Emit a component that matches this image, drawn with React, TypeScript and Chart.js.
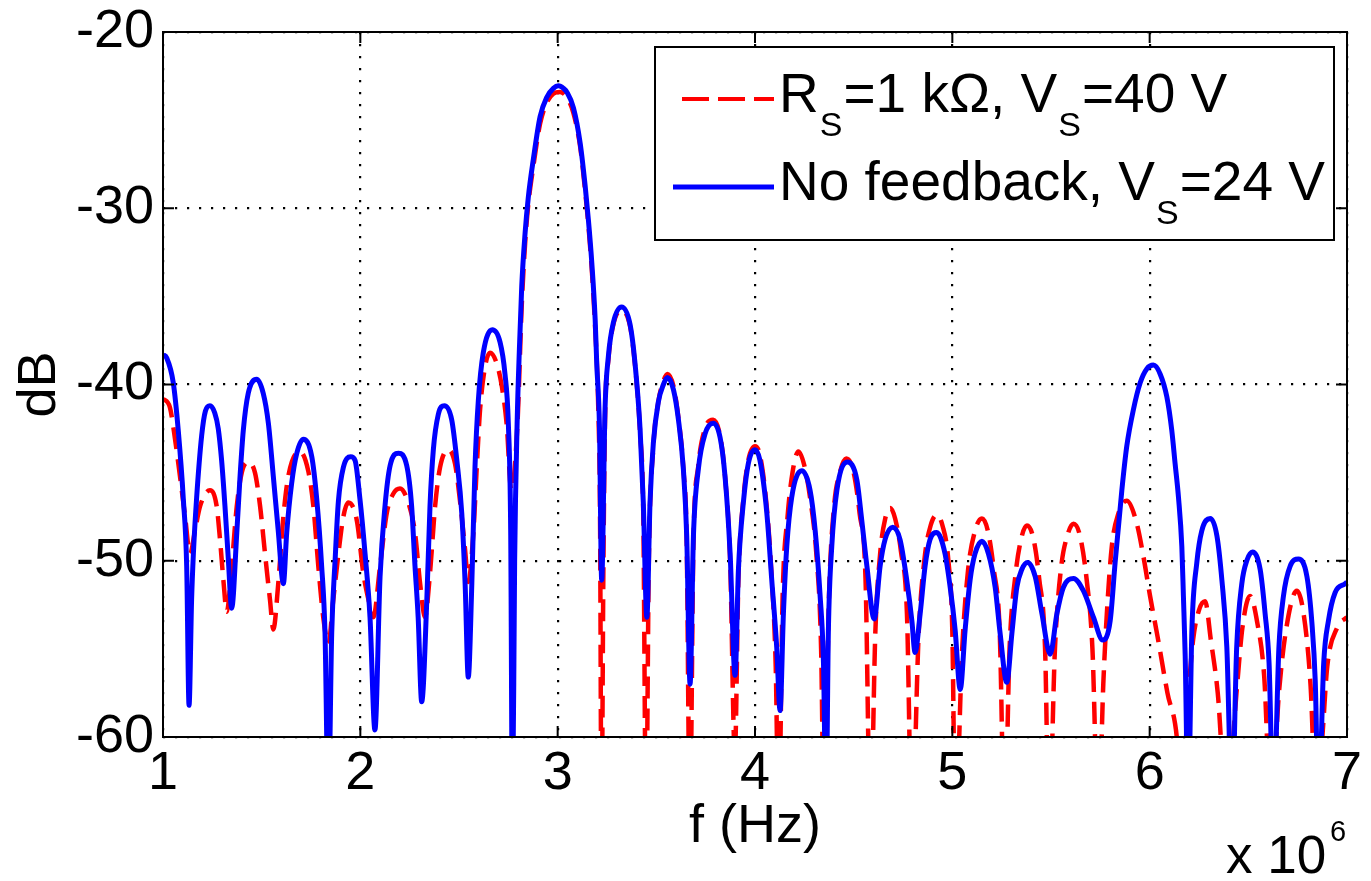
import { useEffect, useRef } from 'react';
import { Chart, registerables } from 'chart.js';

Chart.register(...registerables);

const FONT = '"Liberation Sans", Arial, Helvetica, sans-serif';

// frequency in units of 10^6 Hz
const xTicks = [1, 2, 3, 4, 5, 6, 7];
const yTicks = [-60, -50, -40, -30, -20];

const blueF = [
  1.000, 1.019, 1.052, 1.078, 1.103, 1.120, 1.132, 1.145, 1.154, 1.170, 1.196, 1.215, 1.238, 1.262, 1.280, 1.297, 1.314, 1.331, 1.348,
  1.374, 1.390, 1.407, 1.432, 1.475, 1.508, 1.534, 1.559, 1.584, 1.610,
  1.627, 1.652, 1.678, 1.711, 1.754, 1.779, 1.804, 1.821, 1.838,
  1.855, 1.872, 1.889, 1.914, 1.951, 1.973, 1.998, 2.024, 2.049, 2.074,
  2.100, 2.125, 2.151, 2.193, 2.235, 2.260, 2.277, 2.293, 2.311,
  2.337, 2.353, 2.370, 2.395, 2.426, 2.463, 2.489, 2.514, 2.531, 2.547,
  2.565, 2.581, 2.598, 2.623, 2.669, 2.708, 2.733, 2.750, 2.762, 2.771,
  2.782, 2.795, 2.806, 2.818, 2.835, 2.851, 2.877, 2.911, 2.945, 2.978, 3.004, 3.030, 3.046, 3.080, 3.114, 3.139, 3.156, 3.173, 3.190, 3.198, 3.212, 3.223,
  3.240, 3.257, 3.282, 3.324, 3.367, 3.392, 3.418, 3.434, 3.452,
  3.468, 3.485, 3.510, 3.536, 3.557, 3.587, 3.612, 3.637, 3.654, 3.671,
  3.688, 3.713, 3.747, 3.788, 3.823, 3.848, 3.874, 3.899,
  3.916, 3.941, 3.966, 4.000, 4.025, 4.060, 4.085, 4.110, 4.127,
  4.144, 4.161, 4.186, 4.237, 4.279, 4.305, 4.330, 4.347, 4.360,
  4.372, 4.389, 4.415, 4.468, 4.516, 4.541, 4.567, 4.604,
  4.634, 4.659, 4.698, 4.735, 4.769, 4.795, 4.811,
  4.837, 4.862, 4.887, 4.921, 4.963, 4.989, 5.014, 5.040,
  5.065, 5.090, 5.115, 5.150, 5.183, 5.217, 5.242, 5.276,
  5.302, 5.327, 5.352, 5.381, 5.420, 5.454, 5.496,
  5.530, 5.563, 5.614, 5.664, 5.715, 5.762,
  5.800, 5.825, 5.859, 5.884, 5.918, 5.952, 5.986, 6.019, 6.053, 6.087, 6.112, 6.129, 6.146, 6.163, 6.171, 6.180, 6.195,
  6.214, 6.239, 6.264, 6.307, 6.341, 6.366, 6.391, 6.417,
  6.441, 6.467, 6.492, 6.521, 6.560, 6.585, 6.605, 6.627,
  6.655, 6.678, 6.712, 6.754, 6.797, 6.822, 6.839, 6.856,
  6.882, 6.906, 6.940, 6.991, 7.000,
];
const blueDB = [
  -38.3, -38.5, -39.9, -42.7, -46.5, -50.3, -58.2, -52.2, -49.6, -46.5, -42.9, -41.5, -41.2, -41.6, -42.5, -44.3, -46.9, -49.9, -52.7,
  -48.4, -45.3, -42.6, -40.5, -39.7, -40.5, -42.2, -45.2, -48.3, -51.3,
  -48.4, -45.6, -43.9, -43.1, -44.1, -46.5, -50.3, -54.1, -64,
  -54.1, -50.0, -46.6, -44.7, -44.1, -44.3, -46.5, -49.6, -53.2, -59.6,
  -50.9, -46.9, -44.6, -43.9, -44.6, -46.9, -50.3, -53.2, -58.0,
  -52.2, -46.9, -43.7, -41.7, -41.2, -42.0, -44.3, -47.3, -51.3, -56.6,
  -51.3, -44.7, -40.9, -38.2, -36.9, -37.6, -39.4, -42.2, -48.4, -65,
  -50.0, -42.0, -38.0, -34.4, -31.4, -29.4, -27.2, -24.8, -23.7, -23.2, -23.05, -23.2, -23.4, -24.3, -26.3, -28.7, -30.7, -33.1, -36.3, -38.8, -42.5, -51.1,
  -41.4, -38.4, -36.5, -35.6, -36.6, -38.8, -42.6, -46.7, -53.2,
  -46.7, -43.3, -41.0, -40.0, -39.6, -40.3, -42.0, -44.8, -48.6, -57.0,
  -48.6, -44.8, -42.8, -42.2, -43.0, -45.2, -49.6, -56.5,
  -50.5, -46.7, -44.5, -43.7, -44.3, -47.3, -51.1, -54.9, -58.5,
  -53.0, -49.2, -46.4, -44.9, -46.0, -48.3, -52.0, -55.8, -64,
  -53.9, -49.2, -46.0, -44.4, -45.4, -47.7, -50.3, -53.3,
  -50.3, -48.8, -48.1, -48.8, -51.1, -53.4, -55.2,
  -53.0, -50.3, -48.8, -48.4, -49.6, -51.5, -53.9, -57.3,
  -53.9, -51.1, -49.6, -48.9, -49.6, -51.5, -54.1, -56.9,
  -54.1, -51.5, -50.5, -50.1, -50.9, -53.0, -55.3,
  -53.0, -51.5, -51.0, -51.7, -53.2, -54.5,
  -53.4, -50.1, -46.0, -43.5, -41.4, -39.9, -39.1, -38.9, -39.4, -40.7, -42.6, -44.5, -46.4, -49.2, -52.0, -55.4, -64,
  -53.9, -50.1, -48.3, -47.6, -48.6, -51.1, -54.9, -64,
  -54.9, -51.3, -50.0, -49.5, -50.5, -53.0, -55.8, -64,
  -54.9, -52.0, -50.3, -49.9, -50.9, -53.5, -56.8, -64,
  -55.8, -53.4, -51.8, -51.3, -51.2,
];

const redF = [
  1.000, 1.035, 1.061, 1.086, 1.112, 1.137,
  1.162, 1.188, 1.238, 1.272, 1.289, 1.306, 1.323,
  1.348, 1.374, 1.399, 1.432, 1.466, 1.492, 1.517, 1.542, 1.559,
  1.584, 1.610, 1.635, 1.694, 1.736, 1.762, 1.787, 1.812, 1.838,
  1.863, 1.889, 1.914, 1.939, 1.982, 2.015, 2.041, 2.066,
  2.100, 2.134, 2.167, 2.201, 2.243, 2.277, 2.303, 2.328,
  2.353, 2.379, 2.404, 2.446, 2.480, 2.505, 2.531, 2.547,
  2.573, 2.590, 2.607, 2.632, 2.657, 2.691, 2.717, 2.742, 2.765,
  2.796, 2.818, 2.835, 2.851, 2.877, 2.911, 2.945, 2.978, 3.012, 3.046, 3.080, 3.114, 3.139, 3.156, 3.173, 3.190, 3.205, 3.215, 3.222,
  3.232, 3.240, 3.257, 3.282, 3.324, 3.367, 3.392, 3.418, 3.434, 3.448,
  3.462, 3.485, 3.510, 3.536, 3.557, 3.587, 3.612, 3.637, 3.654, 3.670,
  3.688, 3.713, 3.747, 3.788, 3.823, 3.848, 3.874, 3.898,
  3.916, 3.941, 3.966, 4.000, 4.025, 4.060, 4.085, 4.105, 4.120,
  4.140, 4.165, 4.190, 4.220, 4.250, 4.280, 4.310, 4.335, 4.350,
  4.375, 4.400, 4.430, 4.462, 4.500, 4.530, 4.560, 4.585,
  4.610, 4.635, 4.660, 4.685, 4.710, 4.740, 4.770, 4.795,
  4.830, 4.860, 4.890, 4.921, 4.950, 4.980, 5.000, 5.015,
  5.050, 5.080, 5.115, 5.150, 5.180, 5.210, 5.240, 5.265,
  5.290, 5.320, 5.350, 5.378, 5.410, 5.440, 5.470, 5.490,
  5.520, 5.550, 5.585, 5.614, 5.645, 5.680, 5.710, 5.740,
  5.765, 5.783, 5.808, 5.842, 5.884, 5.935, 5.969, 6.002, 6.040, 6.090, 6.140, 6.160,
  6.175, 6.195, 6.220, 6.250, 6.281, 6.310, 6.345, 6.390,
  6.440, 6.470, 6.509, 6.545, 6.580, 6.615,
  6.655, 6.690, 6.746, 6.780, 6.815, 6.845,
  6.875, 6.900, 6.950, 7.000,
];
const redDB = [
  -40.8, -41.3, -43.1, -45.2, -47.5, -49.6,
  -48.3, -46.9, -46.0, -46.9, -48.8, -51.1, -52.9,
  -50.3, -46.9, -45.0, -44.4, -45.0, -46.9, -49.6, -52.2, -53.9,
  -51.3, -47.5, -45.2, -43.8, -44.9, -46.9, -50.3, -53.2, -54.7,
  -52.2, -49.6, -47.5, -46.7, -47.7, -50.7, -52.2, -53.2,
  -50.3, -47.3, -46.2, -45.9, -46.7, -48.4, -51.3, -53.2,
  -50.7, -46.9, -44.7, -43.7, -44.5, -46.6, -49.4, -51.2,
  -48.4, -44.7, -41.4, -39.0, -38.2, -38.8, -40.1, -42.3, -46.0,
  -42.3, -35.5, -32.0, -29.8, -27.6, -25.2, -24.0, -23.5, -23.4, -23.7, -24.6, -26.5, -29.0, -31.0, -33.5, -36.8, -41.0, -48.0, -65,
  -50.0, -42.0, -38.6, -36.6, -35.8, -36.7, -38.9, -42.8, -47.5, -65,
  -50.0, -43.5, -41.0, -39.8, -39.4, -40.1, -41.9, -44.8, -49.0, -65,
  -49.0, -44.6, -42.5, -42.0, -42.9, -45.2, -50.0, -61,
  -51.0, -46.5, -44.3, -43.5, -44.0, -47.0, -51.0, -56.0, -65,
  -52.0, -47.5, -45.0, -43.8, -44.6, -46.5, -49.5, -55.0, -65,
  -52.0, -47.0, -45.0, -44.2, -45.0, -47.3, -51.0, -65,
  -54.0, -49.5, -47.6, -47.0, -47.6, -49.5, -53.0, -65,
  -54.0, -49.8, -48.0, -47.4, -48.0, -50.0, -54.0, -65,
  -55.0, -50.5, -48.3, -47.6, -48.3, -50.5, -54.0, -65,
  -55.0, -50.8, -48.7, -48.0, -48.7, -51.0, -55.0, -65,
  -55.0, -50.5, -48.5, -47.9, -48.5, -51.0, -55.0, -65,
  -57.0, -53.0, -49.2, -47.3, -46.6, -47.9, -49.8, -52.0, -54.3, -57.5, -60.3, -64,
  -62.0, -57.8, -54.5, -52.8, -52.3, -54.5, -57.5, -64,
  -57.5, -53.8, -52.0, -53.5, -56.5, -64,
  -57.5, -54.0, -51.7, -53.0, -57.0, -64,
  -60.0, -56.0, -53.8, -53.2,
];

const legendLabels = ['RS=1 kΩ, VS=40 V', 'No feedback, VS=24 V'];

type Part = { t: string; sub?: boolean };
const legendRich: Part[][] = [
  [{ t: 'R' }, { t: 'S', sub: true }, { t: '=1 kΩ, V' }, { t: 'S', sub: true }, { t: '=40 V' }],
  [{ t: 'No feedback, V' }, { t: 'S', sub: true }, { t: '=24 V' }],
];

function drawRich(ctx: CanvasRenderingContext2D, x: number, base: number, parts: Part[]) {
  let cx = x;
  for (const p of parts) {
    if (p.sub) {
      ctx.font = `34px ${FONT}`;
      ctx.fillText(p.t, cx + 1, base + 24);
      cx += ctx.measureText(p.t).width + 2;
    } else {
      ctx.font = `55px ${FONT}`;
      ctx.fillText(p.t, cx, base);
      cx += ctx.measureText(p.t).width;
    }
  }
}

const framePlugin = {
  id: 'matlabFrame',
  afterDatasetsDraw(chart: any) {
    const { ctx, chartArea: a, scales } = chart;
    ctx.save();
    ctx.strokeStyle = '#000';
    ctx.lineWidth = 2;
    ctx.setLineDash([]);
    ctx.strokeRect(a.left, a.top, a.right - a.left, a.bottom - a.top);
    const L = 11;
    ctx.beginPath();
    for (const v of xTicks) {
      const x = scales.x.getPixelForValue(v);
      ctx.moveTo(x, a.bottom);
      ctx.lineTo(x, a.bottom - L);
      ctx.moveTo(x, a.top);
      ctx.lineTo(x, a.top + L);
    }
    for (const v of yTicks) {
      const y = scales.y.getPixelForValue(v);
      ctx.moveTo(a.left, y);
      ctx.lineTo(a.left + L, y);
      ctx.moveTo(a.right, y);
      ctx.lineTo(a.right - L, y);
    }
    ctx.stroke();
    ctx.restore();
  },
  afterDraw(chart: any) {
    const { ctx } = chart;
    ctx.save();
    // legend
    const bx = 655, by = 47, bw = 679, bh = 193;
    ctx.fillStyle = '#fff';
    ctx.fillRect(bx, by, bw, bh);
    ctx.strokeStyle = '#000';
    ctx.lineWidth = 2;
    ctx.strokeRect(bx, by, bw, bh);
    // red dashed sample
    ctx.strokeStyle = '#ff0000';
    ctx.lineWidth = 4;
    ctx.setLineDash([27, 9]);
    ctx.beginPath();
    ctx.moveTo(682, 99);
    ctx.lineTo(774, 99);
    ctx.stroke();
    // blue solid sample
    ctx.setLineDash([]);
    ctx.strokeStyle = '#0000ff';
    ctx.lineWidth = 5;
    ctx.beginPath();
    ctx.moveTo(673, 187);
    ctx.lineTo(774, 187);
    ctx.stroke();
    ctx.fillStyle = '#000';
    ctx.textBaseline = 'alphabetic';
    ctx.textAlign = 'left';
    drawRich(ctx, 779, 112, legendRich[0]);
    drawRich(ctx, 779, 200, legendRich[1]);
    // axis multiplier
    ctx.font = `53px ${FONT}`;
    ctx.fillText('x 10', 1226, 873);
    ctx.font = `29px ${FONT}`;
    ctx.fillText('6', 1330, 841);
    ctx.restore();
  },
};

export default function App() {
  const ref = useRef<HTMLCanvasElement | null>(null);
  useEffect(() => {
    if (!ref.current) return;
    const red = redF.map((f, i) => ({ x: f, y: redDB[i] }));
    const blue = blueF.map((f, i) => ({ x: f, y: blueDB[i] }));
    const tickFont = { family: FONT, size: 54 };
    const chart = new Chart(ref.current, {
      type: 'line',
      data: {
        datasets: [
          {
            label: legendLabels[0],
            data: red,
            borderColor: '#ff0000',
            borderWidth: 4.5,
            borderDash: [22, 10],
            pointRadius: 0,
            cubicInterpolationMode: 'monotone',
            fill: false,
            clip: 0,
            order: 1,
          },
          {
            label: legendLabels[1],
            data: blue,
            borderColor: '#0000ff',
            borderWidth: 5,
            pointRadius: 0,
            cubicInterpolationMode: 'monotone',
            fill: false,
            clip: 0,
            order: 0,
          },
        ],
      },
      options: {
        responsive: false,
        animation: false,
        devicePixelRatio: 1,
        parsing: false,
        layout: { padding: { left: 0, right: 24, top: 32, bottom: 0 } },
        plugins: {
          legend: { display: false },
          tooltip: { enabled: false },
        },
        scales: {
          x: {
            type: 'linear',
            min: 1,
            max: 7,
            afterBuildTicks: (s: any) => {
              s.ticks = xTicks.map((v) => ({ value: v }));
            },
            ticks: {
              color: '#000',
              font: tickFont,
              padding: 5,
              maxRotation: 0,
              autoSkip: false,
              callback: (v: any) => String(v),
            },
            grid: { color: '#000', lineWidth: 2.2, drawTicks: false },
            border: { display: false, dash: [2.2, 9.8] },
            title: {
              display: true,
              text: 'f (Hz)',
              color: '#000',
              font: tickFont,
              padding: { top: 0, bottom: 21 },
            },
            afterFit: (s: any) => {
              s.height = 144;
              s.paddingLeft = 0;
              s.paddingRight = 0;
            },
          },
          y: {
            type: 'linear',
            min: -60,
            max: -20,
            afterBuildTicks: (s: any) => {
              s.ticks = yTicks.map((v) => ({ value: v }));
            },
            ticks: {
              color: '#000',
              font: tickFont,
              padding: 9,
              autoSkip: false,
              callback: (v: any) => String(v),
            },
            grid: { color: '#000', lineWidth: 2.2, drawTicks: false },
            border: { display: false, dash: [2.2, 9.8] },
            title: {
              display: true,
              text: 'dB',
              color: '#000',
              font: tickFont,
              padding: { top: 8, bottom: 0 },
            },
            afterFit: (s: any) => {
              s.width = 163;
              s.paddingTop = 0;
              s.paddingBottom = 0;
            },
          },
        },
      },
      plugins: [framePlugin],
    } as any);
    return () => chart.destroy();
  }, []);
  return (
    <div style={{ position: 'absolute', left: 0, top: 0, width: 1371, height: 881, background: '#fff' }}>
      <canvas ref={ref} width={1371} height={881} style={{ display: 'block', width: 1371, height: 881 }} />
    </div>
  );
}
